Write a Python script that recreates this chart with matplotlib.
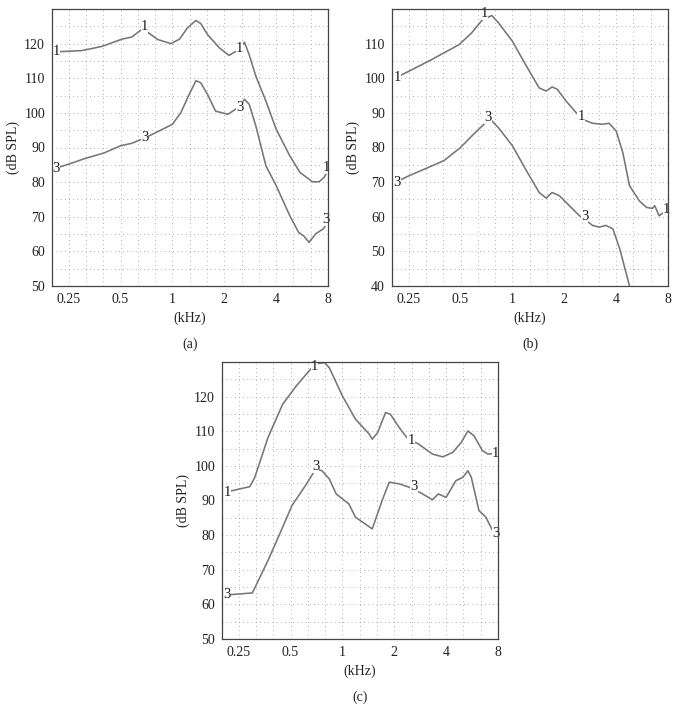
import numpy as np
import matplotlib
matplotlib.use("Agg")
import matplotlib.pyplot as plt
from matplotlib.ticker import FixedLocator, NullLocator

plt.rcParams['font.family'] = ['Liberation Serif', 'DejaVu Serif']

# ---------------- data (kHz, dB SPL) ----------------
a1_f = [0.205, 0.30, 0.39, 0.51, 0.58, 0.66, 0.67, 0.71, 0.82, 0.98, 1.10, 1.22, 1.37, 1.46, 1.60, 1.87, 2.13, 2.44, 2.62, 2.79, 3.05, 3.49, 4.0, 4.8, 5.5, 6.5, 7.1, 7.6, 8.0]
a1_db = [117.6, 118.0, 119.2, 121.3, 121.9, 124.0, 124.2, 123.5, 121.2, 120.0, 121.3, 124.5, 126.7, 125.8, 122.6, 118.8, 116.6, 118.3, 120.4, 116.8, 110.6, 103.4, 95.3, 87.6, 82.8, 80.1, 80.1, 81.4, 83.3]
a3_f = [0.204, 0.25, 0.31, 0.40, 0.50, 0.58, 0.70, 0.84, 1.0, 1.12, 1.25, 1.37, 1.46, 1.60, 1.78, 2.10, 2.40, 2.62, 2.79, 3.05, 3.49, 4.0, 4.8, 5.4, 5.8, 6.2, 6.8, 7.5, 8.0]
a3_db = [83.8, 85.2, 86.8, 88.4, 90.5, 91.2, 92.9, 94.8, 96.7, 100.1, 105.3, 109.3, 108.7, 105.3, 100.5, 99.6, 101.5, 103.9, 102.5, 96.2, 84.7, 79.0, 70.3, 65.5, 64.4, 62.6, 65.1, 66.5, 68.4]

b1_f = [0.209, 0.25, 0.34, 0.49, 0.58, 0.67, 0.76, 0.83, 1.0, 1.19, 1.43, 1.57, 1.70, 1.82, 2.05, 2.34, 2.56, 2.92, 3.33, 3.64, 4.0, 4.37, 4.78, 5.45, 6.0, 6.5, 6.7, 7.1, 7.6, 7.9]
b1_db = [100.1, 102.0, 105.4, 109.7, 113.1, 116.9, 118.1, 116.0, 110.7, 104.0, 97.2, 96.3, 97.5, 96.8, 93.4, 90.1, 88.1, 87.0, 86.7, 87.0, 84.8, 78.6, 69.0, 64.6, 62.7, 62.4, 63.2, 60.3, 61.3, 62.3]
b3_f = [0.209, 0.25, 0.31, 0.40, 0.50, 0.58, 0.70, 0.76, 0.83, 1.0, 1.19, 1.43, 1.57, 1.70, 1.87, 2.14, 2.45, 2.92, 3.19, 3.49, 3.83, 4.2, 4.9]
b3_db = [69.9, 71.8, 73.8, 76.2, 80.0, 83.3, 87.2, 87.7, 85.7, 80.5, 73.8, 67.0, 65.4, 67.0, 66.1, 63.2, 60.3, 57.5, 57.0, 57.5, 56.5, 50.7, 38.0]

c1_f = [0.209, 0.29, 0.31, 0.37, 0.45, 0.54, 0.64, 0.70, 0.79, 0.84, 1.0, 1.19, 1.43, 1.49, 1.60, 1.78, 1.90, 2.14, 2.45, 2.73, 3.33, 3.83, 4.37, 4.9, 5.35, 5.8, 6.5, 7.0, 7.6]
c1_db = [92.4, 94.0, 96.7, 108.2, 117.8, 123.1, 127.4, 129.5, 129.8, 128.3, 120.2, 113.5, 109.2, 107.7, 109.6, 115.4, 114.9, 111.0, 107.2, 106.5, 103.4, 102.6, 103.9, 106.8, 110.1, 108.7, 104.4, 103.4, 103.6]
c3_f = [0.209, 0.30, 0.37, 0.45, 0.51, 0.61, 0.70, 0.76, 0.84, 0.92, 1.09, 1.19, 1.49, 1.70, 1.87, 2.14, 2.45, 2.92, 3.33, 3.6, 4.0, 4.55, 5.0, 5.35, 5.6, 6.2, 6.8, 7.6]
c3_db = [62.7, 63.3, 72.7, 82.3, 88.6, 94.3, 99.1, 98.6, 96.2, 91.9, 89.0, 85.2, 81.8, 90.0, 95.3, 94.8, 93.8, 91.9, 90.2, 91.9, 90.9, 95.7, 96.7, 98.6, 96.7, 87.1, 85.2, 80.4]

# curve number labels: (freq, dB, text)
a_labels = [(0.212, 117.6, "1"), (0.69, 125.0, "1"), (2.45, 118.6, "1"), (7.8, 84.2, "1"),
            (0.212, 83.8, "3"), (0.69, 93.0, "3"), (2.45, 101.6, "3"), (7.8, 69.2, "3")]
b_labels = [(0.214, 100.1, "1"), (0.69, 118.6, "1"), (2.5, 89.0, "1"), (7.85, 62.2, "1"),
            (0.214, 69.9, "3"), (0.72, 88.6, "3"), (2.62, 60.2, "3")]
c_labels = [(0.214, 92.2, "1"), (0.69, 128.8, "1"), (2.5, 107.2, "1"), (7.75, 103.6, "1"),
            (0.214, 62.8, "3"), (0.70, 99.8, "3"), (2.6, 94.0, "3"), (7.75, 80.4, "3")]

xticks = [0.25, 0.5, 1, 2, 4, 8]
xticklabels = ["0.25", "0.5", "1", "2", "4", "8"]

fig = plt.figure(figsize=(6.79, 7.11), dpi=100)

LINE_C = "#767676"
GRID_C = "#7f7f7f"


def setup(ax, ymin, ymax, yticks, curves, labels, tag):
    ax.set_xscale("log", base=2)
    ax.set_xlim(0.2, 8.0)
    ax.set_ylim(ymin, ymax)
    # dotted grid: 1/3 octave vertical, 5 dB horizontal
    vg = [0.25 * 2 ** (k / 3) for k in range(-1, 16)]
    for v in vg:
        if 0.2 < v < 8.0:
            ax.axvline(v, color=GRID_C, lw=0.6, ls=(0, (0.8, 4.2)), zorder=0)
    for h in np.arange(ymin + 5, ymax, 5):
        ax.axhline(h, color=GRID_C, lw=0.6, ls=(0, (0.8, 4.2)), zorder=0)
    for f, d in curves:
        ax.plot(f, d, color=LINE_C, lw=1.15, zorder=2, clip_on=True)
    for f, d, t in labels:
        ax.text(f, d, t, fontsize=10.5, ha="center", va="center", color="#1a1a1a",
                zorder=2.2, bbox=dict(boxstyle="square,pad=0.0", fc="white", ec="none"))
    ax.xaxis.set_major_locator(FixedLocator(xticks))
    ax.xaxis.set_minor_locator(NullLocator())
    ax.set_xticklabels(xticklabels)
    ax.set_yticks(yticks)
    ax.tick_params(axis="both", length=0, labelsize=10, pad=5, labelcolor="#222222")
    for s in ax.spines.values():
        s.set_color("#444444")
        s.set_linewidth(0.9)
        s.set_zorder(3)
    ax.set_xlabel("(kHz)", fontsize=10, labelpad=4, color="#222222")
    ax.set_ylabel("(dB SPL)", fontsize=10, labelpad=3, color="#222222")
    ax.text(0.5, -0.21, tag, transform=ax.transAxes, ha="center", va="center",
            fontsize=10, color="#222222")


ax_a = fig.add_axes([52 / 679, 1 - 286 / 711, 276 / 679, 277 / 711])
setup(ax_a, 50, 130, [50, 60, 70, 80, 90, 100, 110, 120],
      [(a1_f, a1_db), (a3_f, a3_db)], a_labels, "(a)")

ax_b = fig.add_axes([392 / 679, 1 - 286 / 711, 276 / 679, 277 / 711])
setup(ax_b, 40, 120, [40, 50, 60, 70, 80, 90, 100, 110],
      [(b1_f, b1_db), (b3_f, b3_db)], b_labels, "(b)")

ax_c = fig.add_axes([222 / 679, 1 - 639 / 711, 276 / 679, 277 / 711])
setup(ax_c, 50, 130, [50, 60, 70, 80, 90, 100, 110, 120],
      [(c1_f, c1_db), (c3_f, c3_db)], c_labels, "(c)")

fig.savefig("out.png", dpi=100)
